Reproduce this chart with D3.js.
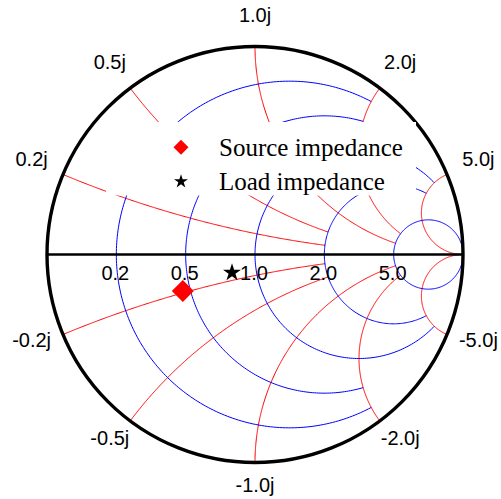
<!DOCTYPE html>
<html>
<head>
<meta charset="utf-8">
<script src="https://cdn.jsdelivr.net/npm/d3@7"></script>
<style>
  html, body { margin: 0; padding: 0; background: #ffffff; }
  svg { display: block; }
</style>
</head>
<body>
<svg id="chart" width="501" height="499"></svg>
<script>
// ---------------- data ----------------
const gridValues = [0.2, 0.5, 1.0, 2.0, 5.0];          // r and x grid values
const gridLimits = [2, 2, 5, 5, Infinity];             // where each grid line stops
const realTickValues = [0.2, 0.5, 1.0, 2.0, 5.0];
const realTickLabels = ["0.2", "0.5", "1.0", "2.0", "5.0"];
const imagTickValues = [0.2, 0.5, 1.0, 2.0, 5.0, -0.2, -0.5, -1.0, -2.0, -5.0];
const imagTickLabels = ["0.2j", "0.5j", "1.0j", "2.0j", "5.0j", "-0.2j", "-0.5j", "-1.0j", "-2.0j", "-5.0j"];
const seriesNames = ["Source impedance", "Load impedance"];
const sourceImpedance = [{ r: 0.46, x: -0.19 }];       // normalized
const loadImpedance = [{ r: 0.79, x: -0.14 }];         // normalized

// ---------------- layout ----------------
const cx = 255, cy = 254.5, R = 208;
const svg = d3.select("#chart");
const xS = d3.scaleLinear().domain([-1, 1]).range([cx - R, cx + R]);
const yS = d3.scaleLinear().domain([-1, 1]).range([cy + R, cy - R]);
const line = d3.line().x(d => xS(d[0])).y(d => yS(d[1]));

function gamma(r, x) {
  const den = (r + 1) * (r + 1) + x * x;
  return [(r * r - 1 + x * x) / den, (2 * x) / den];
}
const TAU = 2 * Math.PI;
const norm = a => ((a % TAU) + TAU) % TAU;

const N = 240;
function resistancePoints(r, lim) {
  const c = r / (r + 1), rho = 1 / (r + 1);
  let p0 = 0;
  if (isFinite(lim)) {
    const g = gamma(r, lim);
    p0 = Math.atan2(g[1], g[0] - c);
  }
  const p1 = TAU - p0;
  return d3.range(N + 1).map(i => {
    const p = p0 + (p1 - p0) * i / N;
    return [c + rho * Math.cos(p), rho * Math.sin(p)];
  });
}
function reactancePoints(x, lim) {
  const a = Math.abs(x), s = Math.sign(x);
  const g0 = gamma(0, a);
  const p0 = norm(Math.atan2(g0[1] - 1 / a, g0[0] - 1));
  let p1 = 1.5 * Math.PI;
  if (isFinite(lim)) {
    const ge = gamma(lim, a);
    p1 = norm(Math.atan2(ge[1] - 1 / a, ge[0] - 1));
  }
  return d3.range(N + 1).map(i => {
    const p = p0 + (p1 - p0) * i / N;
    return [1 + Math.cos(p) / a, s * (1 / a + Math.sin(p) / a)];
  });
}

const grid = svg.append("g").attr("fill", "none").attr("stroke-width", 1);
// reactance arcs (red)
gridValues.forEach((v, i) => {
  [v, -v].forEach(x => {
    grid.append("path").attr("d", line(reactancePoints(x, gridLimits[i])))
      .attr("stroke", "#ff0000");
  });
});
// resistance circles (blue)
gridValues.forEach((v, i) => {
  grid.append("path").attr("d", line(resistancePoints(v, gridLimits[i])))
    .attr("stroke", "#0000ff");
});

// real axis and outer circle
svg.append("line")
  .attr("x1", xS(-1)).attr("x2", xS(1))
  .attr("y1", yS(0)).attr("y2", yS(0))
  .attr("stroke", "#000").attr("stroke-width", 2.6);
svg.append("circle")
  .attr("cx", xS(0)).attr("cy", yS(0)).attr("r", xS(1) - xS(0))
  .attr("fill", "none").attr("stroke", "#000").attr("stroke-width", 3.4);

// real tick labels
const labFont = "'Liberation Sans', Arial, sans-serif";
svg.append("g").selectAll("text").data(realTickValues).join("text")
  .attr("x", d => xS(gamma(d, 0)[0]) - 1)
  .attr("y", yS(0) + 25)
  .attr("text-anchor", "middle")
  .attr("font-family", labFont).attr("font-size", 20)
  .text((d, i) => realTickLabels[i]);

// imaginary tick labels
svg.append("g").selectAll("text").data(imagTickValues).join("text")
  .each(function (d, i) {
    const g = gamma(0, d);
    const th = Math.atan2(g[1], g[0]);
    d3.select(this)
      .attr("x", cx + 242 * Math.cos(th))
      .attr("y", cy - 235 * Math.sin(th) + 2);
  })
  .attr("text-anchor", "middle")
  .attr("font-family", labFont).attr("font-size", 20)
  .text((d, i) => imagTickLabels[i]);

// legend box (white background)
svg.append("rect")
  .attr("x", 106).attr("y", 122).attr("width", 310).attr("height", 73.5)
  .attr("fill", "#ffffff");

// data markers
const diamond = d3.symbol().type(d3.symbolSquare);
const star = d3.symbol().type(d3.symbolStar);
svg.append("g").selectAll("path").data(sourceImpedance).join("path")
  .attr("d", diamond.size(242)())
  .attr("transform", d => { const g = gamma(d.r, d.x); return `translate(${xS(g[0])},${yS(g[1])}) rotate(45)`; })
  .attr("fill", "#ff0000");
svg.append("g").selectAll("path").data(loadImpedance).join("path")
  .attr("d", star.size(100)())
  .attr("transform", d => { const g = gamma(d.r, d.x); return `translate(${xS(g[0])},${yS(g[1])})`; })
  .attr("fill", "#000000");

// legend
const legFont = "'Liberation Serif', 'Times New Roman', serif";
const legRows = [147.3, 180.7];
const lg = svg.append("g");
lg.append("path").attr("d", d3.symbol().type(d3.symbolSquare).size(112)())
  .attr("transform", `translate(181,${legRows[0]}) rotate(45)`).attr("fill", "#ff0000");
lg.append("path").attr("d", d3.symbol().type(d3.symbolStar).size(61)())
  .attr("transform", `translate(181,${legRows[1] + 0.8})`).attr("fill", "#000000");
lg.selectAll("text").data(seriesNames).join("text")
  .attr("x", 219).attr("y", (d, i) => legRows[i] + 9)
  .attr("font-family", legFont).attr("font-size", 25)
  .attr("fill", "#000").text(d => d);
</script>
</body>
</html>
